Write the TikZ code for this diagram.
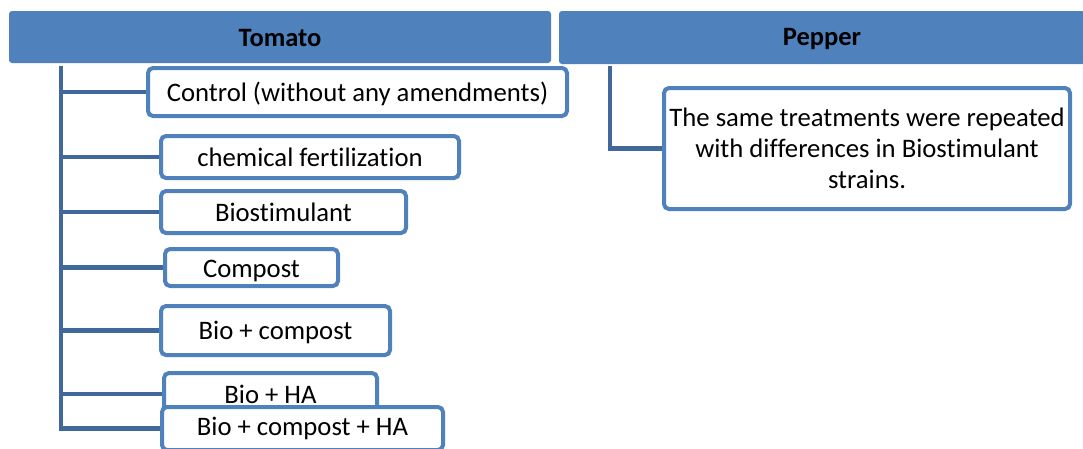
\documentclass[tikz,border=0pt]{standalone}
\usepackage{fontspec}
\setmainfont{Carlito}[Ligatures=NoCommon]
\definecolor{hdrblue}{RGB}{79,129,189}
\definecolor{linkblue}{RGB}{65,104,154}
\newcommand{\lowered}[2]{\raisebox{-#1}[\height][\depth]{#2}}
\begin{document}
\begin{tikzpicture}[x=1pt,y=-1pt,
  header/.style={fill=hdrblue,rounded corners=3pt,inner sep=0pt,
    font=\fontsize{26.5}{32}\selectfont\bfseries,text=black},
  itembox/.style={draw=hdrblue,line width=4pt,fill=white,rounded corners=5pt,
    inner sep=0pt,align=center,font=\fontsize{26.7}{31}\selectfont,text=black},
  link/.style={draw=linkblue,line width=4.3pt}]
\useasboundingbox (0,0) rectangle (1083,448);
\clip (0,0) rectangle (1083,448);
% Tomato items
\node[itembox,minimum width=419pt,minimum height=48pt] (ctrl) at (357.5,92) {\lowered{2pt}{Control (without any amendments)}};
\node[header,minimum width=542pt,minimum height=52pt] (tomato) at (280,37) {\lowered{1pt}{Tomato}};
\node[header,minimum width=526pt,minimum height=53pt] (pepper) at (822,37.5) {\lowered{1pt}{Pepper}};
\node[itembox,minimum width=298pt,minimum height=42pt] (chem) at (310,157) {chemical fertilization};
\node[itembox,minimum width=245pt,minimum height=42pt] (bio) at (283.5,212) {Biostimulant};
\node[itembox,minimum width=173pt,minimum height=37pt] (comp) at (251.5,267.5) {\lowered{3.5pt}{Compost}};
\node[itembox,minimum width=229pt,minimum height=49pt] (biocomp) at (275.5,330.5) {\lowered{1.5pt}{Bio + compost}};
\node[itembox,minimum width=213pt,minimum height=42pt] (bioha) at (270.5,394) {Bio + HA};
\node[itembox,minimum width=281pt,minimum height=43pt] (bch) at (302.5,428.5) {Bio + compost + HA};
% Pepper item
\node[itembox,minimum width=406pt,minimum height=121pt] (pbox) at (867,148.5)
  {The same treatments were repeated\\with differences in Biostimulant\\strains.};
% connectors
\coordinate (ttop) at (61,66);
\coordinate (ptop) at (610,66);
\draw[link] (ttop) |- (bch.west);
\foreach \n in {ctrl,chem,bio,comp,biocomp,bioha}{
  \draw[link] (\n.west) -- (\n.west -| ttop);
}
\draw[link] (ptop) |- (pbox.west);
\end{tikzpicture}
\end{document}
